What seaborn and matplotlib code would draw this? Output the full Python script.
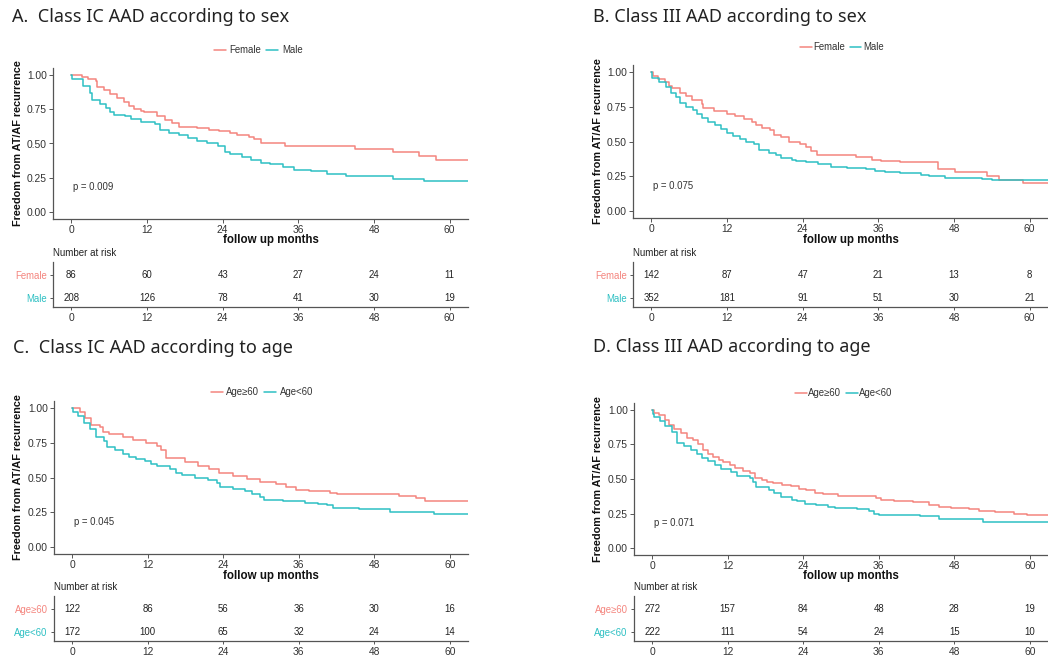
import numpy as np
import pandas as pd
import matplotlib
matplotlib.use("Agg")
import matplotlib.pyplot as plt
from matplotlib import font_manager as fm
from matplotlib.lines import Line2D
import seaborn as sns

# avoid the condensed "Narrow" variants being picked for Liberation Sans
fm.fontManager.ttflist = [f for f in fm.fontManager.ttflist
                          if "narrow" not in f.name.lower() and "narrow" not in f.fname.lower()]
try:
    fm.fontManager._findfont_cached.cache_clear()
except Exception:
    pass

sns.set_theme(style="ticks")
plt.rcParams["font.family"] = ["Liberation Sans", "DejaVu Sans"]

# ---------------- data ----------------
risk_times = [0, 12, 24, 36, 48, 60]

# A. Class IC AAD according to sex
a_female_t = [0, 1.7, 2.6, 3.9, 4.1, 5.2, 6.2, 7.3, 8.3, 9.1, 9.9, 11.0, 11.5, 13.6, 14.9, 16.0, 17.0,
              19.9, 21.8, 23.4, 25.2, 26.3, 28.1, 28.9, 30.0, 33.9, 45.0, 51.0, 55.1, 57.9, 62.9]
a_female_s = [1.00, 0.985, 0.97, 0.955, 0.91, 0.89, 0.86, 0.83, 0.80, 0.77, 0.75, 0.74, 0.73, 0.70, 0.67, 0.65, 0.62,
              0.61, 0.60, 0.59, 0.58, 0.56, 0.55, 0.53, 0.50, 0.485, 0.46, 0.44, 0.41, 0.38, 0.38]
a_male_t = [0, 0.1, 1.8, 2.9, 3.3, 4.5, 5.5, 6.2, 6.7, 8.5, 9.5, 11.0, 13.2, 14.0, 15.5, 17.0, 18.5, 20.0,
            21.5, 23.3, 24.3, 25.2, 27.0, 28.5, 30.0, 31.5, 33.5, 35.3, 38.0, 40.5, 43.5, 51.0, 56.0, 62.9]
a_male_s = [1.00, 0.97, 0.92, 0.87, 0.82, 0.79, 0.76, 0.73, 0.71, 0.70, 0.68, 0.66, 0.64, 0.60, 0.58, 0.56, 0.54, 0.52,
            0.50, 0.48, 0.44, 0.42, 0.40, 0.38, 0.36, 0.35, 0.33, 0.31, 0.30, 0.28, 0.26, 0.24, 0.23, 0.23]
a_female_risk = [86, 60, 43, 27, 24, 11]
a_male_risk = [208, 126, 78, 41, 30, 19]

# B. Class III AAD according to sex
b_female_t = [0, 0.3, 1.0, 2.1, 2.8, 3.3, 4.5, 5.5, 6.4, 8.0, 8.2, 9.9, 12.0, 13.2, 14.7, 16.0, 16.6, 17.5,
              18.8, 19.5, 20.6, 21.8, 23.5, 24.6, 25.4, 26.2, 32.5, 35.0, 36.5, 39.5, 45.5, 48.2, 53.2, 55.2,
              59.0, 63.0]
b_female_s = [1.00, 0.97, 0.95, 0.93, 0.90, 0.885, 0.85, 0.83, 0.80, 0.77, 0.74, 0.72, 0.70, 0.68, 0.66, 0.64, 0.62, 0.60,
              0.58, 0.55, 0.53, 0.50, 0.48, 0.46, 0.43, 0.40, 0.39, 0.37, 0.36, 0.35, 0.30, 0.28, 0.25, 0.22,
              0.205, 0.205]
b_male_t = [0, 0.1, 1.3, 2.3, 3.1, 3.9, 4.6, 5.5, 6.6, 7.3, 8.1, 9.0, 10.1, 11.0, 12.0, 13.0, 14.0, 15.0,
            16.3, 17.0, 18.7, 19.7, 20.5, 22.3, 23.0, 24.5, 26.5, 28.5, 31.0, 34.0, 35.5, 37.0, 39.5, 42.8,
            44.0, 46.5, 49.5, 52.5, 54.0, 63.0]
b_male_s = [1.00, 0.96, 0.93, 0.89, 0.85, 0.82, 0.78, 0.75, 0.73, 0.70, 0.67, 0.64, 0.62, 0.59, 0.56, 0.54, 0.52, 0.50,
            0.48, 0.44, 0.42, 0.40, 0.38, 0.37, 0.36, 0.35, 0.34, 0.32, 0.31, 0.30, 0.29, 0.28, 0.27, 0.26,
            0.25, 0.24, 0.235, 0.23, 0.22, 0.22]
b_female_risk = [142, 87, 47, 21, 13, 8]
b_male_risk = [352, 181, 91, 51, 30, 21]

# C. Class IC AAD according to age
c_old_t = [0, 1.2, 2.0, 3.0, 4.4, 4.9, 5.9, 8.0, 9.6, 11.8, 13.4, 14.1, 14.9, 17.9, 20.0, 21.8, 23.4, 25.5,
           27.7, 29.8, 32.4, 34.0, 35.6, 37.7, 40.9, 42.0, 52.0, 54.7, 56.0, 62.9]
c_old_s = [1.00, 0.97, 0.93, 0.88, 0.86, 0.83, 0.81, 0.79, 0.77, 0.75, 0.73, 0.70, 0.64, 0.61, 0.58, 0.56, 0.53, 0.51,
           0.49, 0.47, 0.45, 0.43, 0.41, 0.40, 0.39, 0.38, 0.37, 0.35, 0.33, 0.33]
c_young_t = [0, 0.1, 0.9, 1.8, 2.8, 3.7, 5.0, 5.5, 6.8, 8.0, 9.0, 10.2, 11.5, 12.5, 13.5, 15.5, 16.5, 17.5,
             19.5, 21.5, 23.0, 23.5, 25.5, 27.5, 28.5, 29.8, 30.5, 33.5, 37.0, 39.0, 40.5, 41.5, 45.5, 50.5,
             57.5, 62.9]
c_young_s = [1.00, 0.97, 0.94, 0.89, 0.85, 0.79, 0.76, 0.72, 0.70, 0.67, 0.65, 0.63, 0.62, 0.60, 0.58, 0.56, 0.53, 0.52,
             0.50, 0.48, 0.46, 0.43, 0.42, 0.40, 0.38, 0.36, 0.34, 0.33, 0.32, 0.31, 0.30, 0.28, 0.27, 0.25,
             0.24, 0.24]
c_old_risk = [122, 86, 56, 36, 30, 16]
c_young_risk = [172, 100, 65, 32, 24, 14]

# D. Class III AAD according to age
d_old_t = [0, 0.2, 1.0, 2.0, 2.7, 3.5, 4.5, 5.5, 6.5, 7.2, 8.0, 8.9, 9.7, 10.6, 11.3, 12.3, 13.2, 14.4, 15.6,
           16.4, 17.5, 18.3, 19.2, 20.7, 22.0, 23.3, 24.4, 25.9, 27.1, 29.5, 35.5, 36.4, 38.5, 41.5, 44.0,
           45.5, 47.5, 50.3, 52.0, 54.5, 57.5, 59.5, 63.0]
d_old_s = [1.00, 0.98, 0.96, 0.93, 0.89, 0.86, 0.83, 0.80, 0.78, 0.75, 0.71, 0.68, 0.66, 0.64, 0.62, 0.60, 0.58, 0.56, 0.54,
           0.51, 0.49, 0.48, 0.47, 0.46, 0.45, 0.43, 0.42, 0.40, 0.39, 0.38, 0.36, 0.35, 0.34, 0.33, 0.31,
           0.30, 0.29, 0.28, 0.27, 0.26, 0.25, 0.24, 0.24]
d_young_t = [0, 0.1, 0.3, 1.3, 2.1, 3.1, 4.0, 5.1, 6.2, 7.1, 7.9, 8.9, 10.0, 11.0, 12.5, 13.4, 15.6, 16.0,
             16.5, 18.5, 19.3, 20.5, 22.2, 23.0, 24.3, 26.0, 28.0, 29.0, 32.5, 34.5, 35.3, 36.0, 42.5, 45.5,
             52.5, 63.0]
d_young_s = [1.00, 0.97, 0.95, 0.92, 0.88, 0.84, 0.76, 0.74, 0.71, 0.68, 0.65, 0.63, 0.60, 0.57, 0.55, 0.52, 0.51, 0.48,
             0.44, 0.42, 0.40, 0.37, 0.35, 0.34, 0.32, 0.31, 0.30, 0.29, 0.28, 0.27, 0.25, 0.24, 0.23, 0.21,
             0.19, 0.19]
d_old_risk = [272, 157, 84, 48, 28, 19]
d_young_risk = [222, 111, 54, 24, 15, 10]

sex_labels = ["Female", "Male"]
age_labels = ["Age\u226560", "Age<60"]
titles = ["A.  Class IC AAD according to sex", "B. Class III AAD according to sex",
          "C.  Class IC AAD according to age", "D. Class III AAD according to age"]
pvals = ["p = 0.009", "p = 0.075", "p = 0.045", "p = 0.071"]

# ---------------- style ----------------
C1, C2 = "#F4857E", "#2EC0C3"
AX = "#555555"
TXT = "#333333"

W, H = 1048, 657
fig = plt.figure(figsize=(W / 100, H / 100), dpi=100)


def rect(x0, y0, x1, y1):
    return [x0 / W, 1 - y1 / H, (x1 - x0) / W, (y1 - y0) / H]


def fpos(x, y):
    return x / W, 1 - y / H


panels = [
    dict(title=titles[0], tpos=(12, 17), labels=sex_labels, curves=[(a_female_t, a_female_s), (a_male_t, a_male_s)],
         risk=[a_female_risk, a_male_risk], pval=pvals[0],
         cx=(53, 468), cy=(68, 219), leg=(258, 50), legstyle="A", ylab_x=18, xlab=(271, 240),
         nar=(53, 253), ty=(262, 307)),
    dict(title=titles[1], tpos=(593, 17), labels=sex_labels, curves=[(b_female_t, b_female_s), (b_male_t, b_male_s)],
         risk=[b_female_risk, b_male_risk], pval=pvals[1],
         cx=(633, 1048), cy=(65, 218), leg=(842, 47), legstyle="B", ylab_x=598, xlab=(851, 240),
         nar=(633, 253), ty=(262, 307)),
    dict(title=titles[2], tpos=(13, 348), labels=age_labels, curves=[(c_old_t, c_old_s), (c_young_t, c_young_s)],
         risk=[c_old_risk, c_young_risk], pval=pvals[2],
         cx=(54, 468), cy=(401, 554), leg=(262, 392), legstyle="A", ylab_x=18, xlab=(271, 576),
         nar=(54, 587), ty=(596, 641)),
    dict(title=titles[3], tpos=(593, 347), labels=age_labels, curves=[(d_old_t, d_old_s), (d_young_t, d_young_s)],
         risk=[d_old_risk, d_young_risk], pval=pvals[3],
         cx=(634, 1048), cy=(403, 555), leg=(844, 393), legstyle="B", ylab_x=598, xlab=(851, 576),
         nar=(634, 587), ty=(596, 641)),
]

XLIM = (-2.9, 62.9)
xticks = [0, 12, 24, 36, 48, 60]

for p in panels:
    # title
    fig.text(*fpos(*p["tpos"]), p["title"], fontsize=13, family=["Noto Sans", "DejaVu Sans"],
             color="#222222", ha="left", va="center")

    # survival curves
    ax = fig.add_axes(rect(p["cx"][0], p["cy"][0], p["cx"][1], p["cy"][1]))
    frames = []
    for lab, (t, s) in zip(p["labels"], p["curves"]):
        frames.append(pd.DataFrame({"time": t, "surv": s, "group": lab}))
    df = pd.concat(frames, ignore_index=True)
    sns.lineplot(data=df, x="time", y="surv", hue="group", hue_order=p["labels"],
                 palette=[C1, C2], estimator=None, drawstyle="steps-post", linewidth=1.1,
                 legend=False, ax=ax)
    ax.set_xlim(*XLIM)
    ax.set_ylim(-0.05, 1.05)
    ax.set_xticks(xticks)
    ax.set_yticks([0, 0.25, 0.5, 0.75, 1.0])
    ax.set_yticklabels(["0.00", "0.25", "0.50", "0.75", "1.00"])
    sns.despine(ax=ax)
    for sp in ["left", "bottom"]:
        ax.spines[sp].set_color(AX)
        ax.spines[sp].set_linewidth(0.9)
    ax.tick_params(axis="both", length=3, width=0.7, color=AX, labelsize=7.4, labelcolor=TXT, pad=1.5)
    ax.set_xlabel("follow up months", fontsize=8.3, fontweight="bold", color="#111111")
    ax.set_ylabel("Freedom from AT/AF recurrence", fontsize=7.8, fontweight="bold", color="#111111")
    axw = p["cx"][1] - p["cx"][0]
    axh = p["cy"][1] - p["cy"][0]
    ax.xaxis.set_label_coords((p["xlab"][0] - p["cx"][0]) / axw, -(p["xlab"][1] - p["cy"][1]) / axh)
    ax.xaxis.label.set_va("center")
    ax.yaxis.set_label_coords((p["ylab_x"] - p["cx"][0]) / axw, 0.5)
    ax.yaxis.label.set_va("center")
    ax.text(0.2, 0.18, p["pval"], fontsize=6.9, color=TXT, ha="left", va="center")

    # legend
    handles = [Line2D([], [], color=C1, lw=1.1), Line2D([], [], color=C2, lw=1.1)]
    if p["legstyle"] == "A":
        kw = dict(handlelength=1.25, handletextpad=0.4, columnspacing=0.5)
    else:
        kw = dict(handlelength=1.2, handletextpad=0.15, columnspacing=0.5)
    ax.legend(handles, p["labels"], loc="center", bbox_to_anchor=fpos(*p["leg"]),
              bbox_transform=fig.transFigure, ncol=2, frameon=False, fontsize=6.9,
              labelcolor=TXT, borderaxespad=0, borderpad=0, **kw)

    # risk table
    fig.text(*fpos(*p["nar"]), "Number at risk", fontsize=7, color="#222222", ha="left", va="center")
    tx = fig.add_axes(rect(p["cx"][0], p["ty"][0], p["cx"][1], p["ty"][1]))
    rows = [1, 0]
    for r, vals in zip(rows, p["risk"]):
        for t, v in zip(risk_times, vals):
            tx.text(t, r, str(v), fontsize=6.9, color="#222222", ha="center", va="center")
    tx.set_xlim(*XLIM)
    tx.set_ylim(-0.42, 1.6)
    tx.set_xticks(xticks)
    tx.set_yticks(rows)
    tx.set_yticklabels(p["labels"])
    for lbl, c in zip(tx.get_yticklabels(), [C1, C2]):
        lbl.set_color(c)
    sns.despine(ax=tx)
    for sp in ["left", "bottom"]:
        tx.spines[sp].set_color(AX)
        tx.spines[sp].set_linewidth(0.9)
    tx.tick_params(axis="both", length=2.5, width=0.7, color=AX, labelsize=6.9, pad=2)
    tx.tick_params(axis="x", labelsize=7.4, labelcolor=TXT)
    tx.set_xlabel("")
    tx.set_ylabel("")

fig.savefig("out.png", dpi=100, facecolor="white")
